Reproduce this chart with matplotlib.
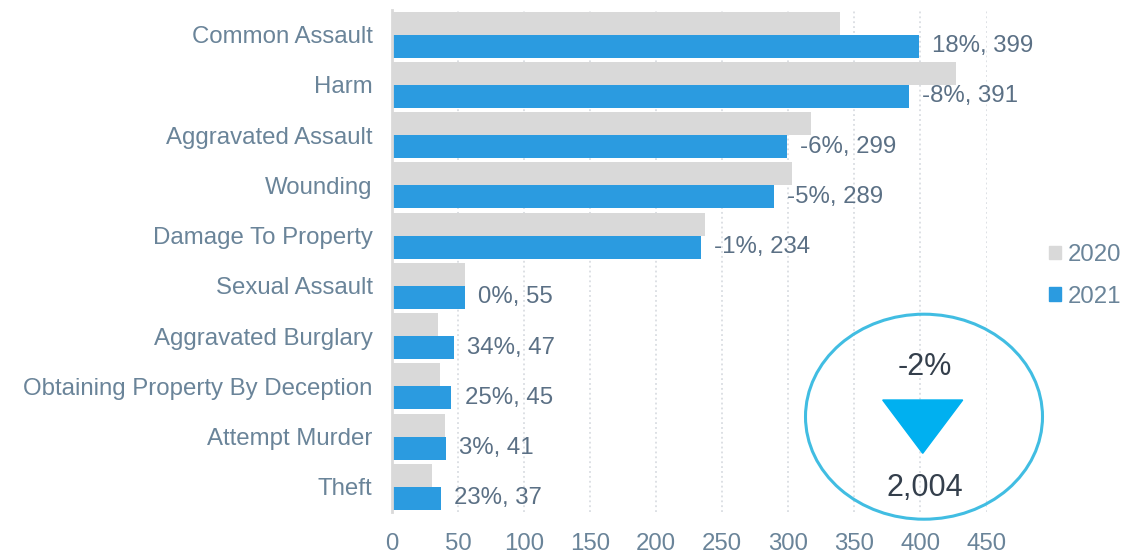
import matplotlib
matplotlib.use("Agg")
import matplotlib.pyplot as plt
from matplotlib.patches import Ellipse, Polygon, Patch
import numpy as np

plt.rcParams['font.family'] = ['Liberation Sans', 'DejaVu Sans']

categories = ["Common Assault", "Harm", "Aggravated Assault", "Wounding",
              "Damage To Property", "Sexual Assault", "Aggravated Burglary",
              "Obtaining Property By Deception", "Attempt Murder", "Theft"]
vals_2020 = [339, 427, 317, 303, 237, 55, 35, 36, 40, 30]
vals_2021 = [399, 391, 299, 289, 234, 55, 47, 45, 41, 37]
pct_change = ["18%", "-8%", "-6%", "-5%", "-1%", "0%", "34%", "25%", "3%", "23%"]
total_change = "-2%"
total_2021 = "2,004"

c2020 = '#d9d9d9'
c2021 = '#2b9be0'
axis_txt = '#6a8499'
lbl_txt = '#5b7085'
big_txt = '#343f4c'

fig = plt.figure(figsize=(11.48, 5.55), dpi=100)
ax = fig.add_axes([392/1148, 1 - 512/555, (986.5 - 392)/1148, (512 - 9.5)/555])

n = len(categories)
y = np.arange(n)[::-1]
h = 0.46
ax.barh(y + h/2, vals_2020, height=h, color=c2020, label='2020', zorder=2)
ax.barh(y - h/2, vals_2021, height=h, color=c2021, label='2021', zorder=2)

for yi, v, p in zip(y, vals_2021, pct_change):
    ax.annotate(f"{p}, {v}", xy=(v, yi - h/2), xytext=(9.5, 0),
                textcoords='offset points', va='center', ha='left',
                fontsize=17.3, color=lbl_txt)

ax.set_xlim(0, 450)
ax.set_ylim(-0.5, n - 0.5)
ax.set_xticks(np.arange(0, 451, 50))
ax.set_yticks(y)
ax.set_yticklabels(categories)
ax.tick_params(axis='both', length=0, labelsize=17.3, labelcolor=axis_txt)
ax.tick_params(axis='y', pad=14)
ax.tick_params(axis='x', pad=15)
ax.xaxis.grid(True, linestyle=(0, (1.2, 2)), color='#d3d7dd', linewidth=1.1, zorder=0)
ax.set_axisbelow(True)
for s in ['top', 'right', 'bottom']:
    ax.spines[s].set_visible(False)
ax.spines['left'].set_color('#d9d9d9')
ax.spines['left'].set_linewidth(2)
ax.spines['left'].set_zorder(3)

handles = [Patch(color=c2020), Patch(color=c2021)]
fig.legend(handles, ['2020', '2021'], loc='center left',
           bbox_to_anchor=(1049/1148, 1 - 276/555), frameon=False,
           fontsize=17.3, labelcolor=axis_txt, handlelength=0.5, handleheight=0.5,
           handletextpad=0.3, labelspacing=0.82, borderpad=0, borderaxespad=0)

# summary badge
W, H = 1148, 555
ell = Ellipse((924/W, 1 - 416.7/H), 237/W, 205/H, transform=fig.transFigure,
              fill=False, edgecolor='#41bde2', linewidth=2.2, zorder=5)
fig.add_artist(ell)
tri = Polygon([(882.7/W, 1 - 400/H), (962.7/W, 1 - 400/H), (922.7/W, 1 - 453.3/H)],
              closed=True, transform=fig.transFigure, color='#00b0f0', zorder=5)
fig.add_artist(tri)
fig.text(925/W, 1 - 366.7/H, total_change, ha='center', va='center',
         fontsize=22, color=big_txt)
fig.text(925/W, 1 - 487.7/H, total_2021, ha='center', va='center',
         fontsize=22, color=big_txt)

fig.savefig('out.png', dpi=100)
